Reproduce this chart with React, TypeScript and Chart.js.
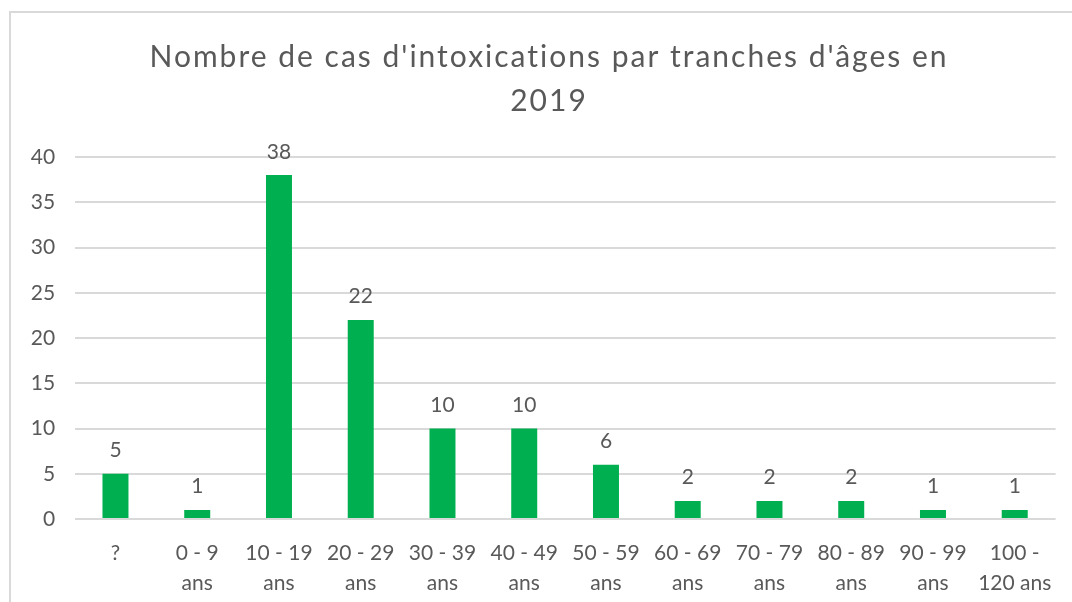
import React, { useEffect, useRef } from "react";
import { Chart, registerables } from "chart.js";

Chart.register(...registerables);

const categories: (string | string[])[] = [
  "?",
  ["0 - 9", "ans"],
  ["10 - 19", "ans"],
  ["20 - 29", "ans"],
  ["30 - 39", "ans"],
  ["40 - 49", "ans"],
  ["50 - 59", "ans"],
  ["60 - 69", "ans"],
  ["70 - 79", "ans"],
  ["80 - 89", "ans"],
  ["90 - 99", "ans"],
  ["100 -", "120 ans"],
];
const cases = [5, 1, 38, 22, 10, 10, 6, 2, 2, 2, 1, 1];
const titleLines = ["Nombre de cas d'intoxications par tranches d'âges en", "2019"];

const TEXT = "#595959";
const FONT = "Lato, 'Open Sans', sans-serif";

const dataLabelPlugin = {
  id: "dataLabels",
  afterDatasetsDraw(chart: any) {
    const ctx = chart.ctx;
    const meta = chart.getDatasetMeta(0);
    ctx.save();
    ctx.fillStyle = TEXT;
    ctx.font = `21px ${FONT}`;
    ctx.textAlign = "center";
    ctx.textBaseline = "alphabetic";
    meta.data.forEach((bar: any, i: number) => {
      const v = chart.data.datasets[0].data[i];
      ctx.fillText(String(v), bar.x, bar.y - 16.5);
    });
    ctx.restore();
  },
};

const titlePlugin = {
  id: "customTitle",
  afterDraw(chart: any) {
    const ctx = chart.ctx;
    ctx.save();
    ctx.fillStyle = TEXT;
    ctx.font = `30px ${FONT}`;
    ctx.textAlign = "center";
    ctx.textBaseline = "alphabetic";
    (ctx as any).letterSpacing = "2px";
    titleLines.forEach((line, i) => {
      ctx.fillText(line, 549, 67 + i * 43.5);
    });
    ctx.restore();
  },
};

export default function App() {
  const ref = useRef<HTMLCanvasElement>(null);
  useEffect(() => {
    if (!ref.current) return;
    const chart = new Chart(ref.current, {
      type: "bar",
      data: {
        labels: categories,
        datasets: [
          {
            data: cases,
            backgroundColor: "#00B050",
            barPercentage: 1,
            categoryPercentage: 0.318,
          },
        ],
      },
      options: {
        animation: false,
        responsive: true,
        maintainAspectRatio: false,
        layout: { padding: { left: 0, right: 16.4, top: 157, bottom: 0 } },
        plugins: {
          legend: { display: false },
          tooltip: { enabled: false },
          title: { display: false },
        },
        scales: {
          x: {
            grid: { display: false },
            border: { display: false },
            ticks: {
              color: TEXT,
              font: { family: FONT, size: 21, lineHeight: 30 / 21 },
              padding: 11.5,
              maxRotation: 0,
              autoSkip: false,
            },
            afterFit: (s: any) => {
              s.height = 83;
            },
          },
          y: {
            min: 0,
            max: 40,
            grid: { color: "#d9d9d9", lineWidth: 2, drawTicks: false },
            border: { display: false },
            ticks: {
              stepSize: 5,
              color: TEXT,
              font: { family: FONT, size: 21 },
              padding: 19.5,
            },
            afterFit: (s: any) => {
              s.width = 74.6;
            },
          },
        },
      },
      plugins: [dataLabelPlugin, titlePlugin],
    });
    return () => chart.destroy();
  }, []);

  return (
    <div style={{ position: "fixed", left: 0, top: 0, width: 1072, height: 602, background: "#fff" }}>
      <div
        style={{
          position: "absolute",
          left: 9,
          top: 11,
          right: -10,
          bottom: -10,
          borderTop: "2px solid #d9d9d9",
          borderLeft: "2px solid #d9d9d9",
        }}
      />
      <canvas ref={ref} style={{ position: "absolute", left: 0, top: 0 }} />
    </div>
  );
}
